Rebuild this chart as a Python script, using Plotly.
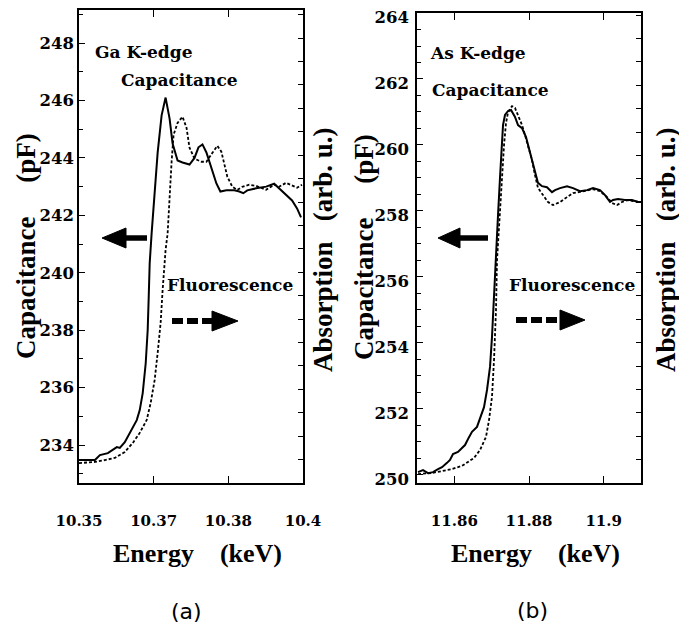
import plotly.graph_objects as go

# ---------------- data ----------------
# Panel (a): Ga K-edge
energy_a_cap = [10.35000, 10.35356, 10.35467, 10.35644, 10.35844, 10.35911, 10.36022, 10.36178,
                10.36289, 10.36356, 10.36422, 10.36489, 10.36533, 10.36556, 10.36578, 10.36622,
                10.36689, 10.36756, 10.36844, 10.36933, 10.37022, 10.37089, 10.37200, 10.37311,
                10.37467, 10.37578, 10.37667, 10.37756, 10.37844, 10.37956, 10.38067, 10.38156,
                10.38289, 10.38467, 10.38578, 10.38667, 10.38756, 10.38956, 10.39178, 10.39356,
                10.39467, 10.39622, 10.39756, 10.39867, 10.39956]
capacitance_a = [233.48, 233.48, 233.65, 233.72, 233.93, 233.90, 234.10, 234.52, 234.87, 235.22,
                 235.81, 236.85, 238.00, 239.15, 240.33, 241.40, 242.70, 244.19, 245.48, 246.10,
                 245.37, 244.50, 243.91, 243.84, 243.77, 244.00, 244.37, 244.47, 244.19, 243.63,
                 243.11, 242.83, 242.87, 242.87, 242.83, 242.77, 242.87, 242.94, 243.00, 243.10,
                 242.94, 242.70, 242.52, 242.24, 241.93]
energy_a_fl = [10.35000, 10.35356, 10.35578, 10.35800, 10.36022, 10.36200, 10.36356, 10.36511,
               10.36600, 10.36689, 10.36756, 10.36822, 10.36867, 10.36933, 10.36978, 10.37022,
               10.37067, 10.37111, 10.37200, 10.37311, 10.37400, 10.37467, 10.37578, 10.37733,
               10.37844, 10.37978, 10.38089, 10.38178, 10.38244, 10.38311, 10.38422, 10.38533,
               10.38644, 10.38800, 10.38956, 10.39178, 10.39356, 10.39467, 10.39622, 10.39756,
               10.39867, 10.39978]
absorption_a = [0.85, 0.90, 0.98, 1.07, 1.32, 1.71, 2.14, 2.69, 3.42, 4.40,
                5.56, 6.84, 8.25, 9.96, 10.65, 12.31, 13.72, 14.87, 15.38, 15.64,
                15.17, 14.32, 13.85, 13.72, 13.72, 14.10, 14.40, 14.15, 13.59, 13.08,
                12.65, 12.52, 12.65, 12.74, 12.69, 12.52, 12.74, 12.65, 12.82, 12.69,
                12.61, 12.74]

# Panel (b): As K-edge
energy_b_cap = [11.85027, 11.85161, 11.85295, 11.85429, 11.85563, 11.85670, 11.85804, 11.85884,
                11.85964, 11.86098, 11.86205, 11.86286, 11.86393, 11.86473, 11.86607, 11.86688,
                11.86795, 11.86875, 11.86956, 11.87009, 11.87063, 11.87116, 11.87170, 11.87223,
                11.87277, 11.87304, 11.87357, 11.87438, 11.87518, 11.87625, 11.87706, 11.87813,
                11.87920, 11.87973, 11.88081, 11.88161, 11.88241, 11.88349, 11.88482, 11.88616,
                11.88697, 11.88831, 11.89018, 11.89179, 11.89366, 11.89554, 11.89715, 11.89902,
                11.90036, 11.90170, 11.90250, 11.90384, 11.90572, 11.90759, 11.90920, 11.91000]
capacitance_b = [250.08, 250.14, 250.05, 250.08, 250.17, 250.23, 250.36, 250.45, 250.63, 250.69,
                 250.81, 250.90, 251.14, 251.30, 251.45, 251.72, 252.05, 252.57, 253.27, 254.18,
                 255.51, 256.88, 257.87, 259.00, 260.00, 260.60, 260.91, 261.03, 261.06, 260.85,
                 260.60, 260.51, 260.24, 260.00, 259.60, 259.18, 258.85, 258.75, 258.72, 258.57,
                 258.63, 258.69, 258.75, 258.69, 258.60, 258.63, 258.69, 258.63, 258.48, 258.27,
                 258.33, 258.36, 258.33, 258.33, 258.27, 258.27]
energy_b_fl = [11.85027, 11.85402, 11.85670, 11.85938, 11.86205, 11.86527, 11.86688, 11.86848,
               11.86929, 11.87009, 11.87063, 11.87116, 11.87143, 11.87223, 11.87277, 11.87331,
               11.87384, 11.87438, 11.87545, 11.87625, 11.87706, 11.87813, 11.87893, 11.87973,
               11.88081, 11.88161, 11.88241, 11.88375, 11.88509, 11.88643, 11.88831, 11.89018,
               11.89179, 11.89366, 11.89554, 11.89715, 11.89902, 11.90090, 11.90224, 11.90358,
               11.90492, 11.90626, 11.90786, 11.90974]
absorption_b = [0.38, 0.43, 0.51, 0.60, 0.73, 1.07, 1.41, 1.97, 2.69, 3.68,
                5.26, 7.39, 9.53, 11.41, 13.03, 14.44, 15.38, 15.85, 16.11, 16.03,
                15.73, 15.30, 14.87, 14.44, 13.80, 13.16, 12.61, 12.31, 12.01, 11.88,
                12.01, 12.22, 12.39, 12.44, 12.52, 12.56, 12.48, 12.22, 11.97, 11.88,
                12.01, 12.09, 12.05, 12.01]

xtick_vals_a = [10.35, 10.35 + 0.05 / 3, 10.35 + 0.10 / 3, 10.40]
xtick_text_a = ["10.35", "10.37", "10.38", "10.4"]
xtick_vals_b = [11.86, 11.88, 11.90]
xtick_text_b = ["11.86", "11.88", "11.9"]

# ---------------- layout helpers ----------------
# The page body has an 8px margin: positions are given in window pixels.
OFF = 8
W, H = 687 - OFF, 626 - OFF
def px(x):
    return (x - OFF) / W
def py(y):
    return 1 - (y - OFF) / H

SERIF_T = "Liberation Serif"
SERIF_W = "DejaVu Serif"

fig = go.Figure()
fig.add_trace(go.Scatter(x=energy_a_cap, y=capacitance_a, mode="lines",
                         line=dict(color="black", width=2), xaxis="x", yaxis="y"))
fig.add_trace(go.Scatter(x=energy_a_fl, y=absorption_a, mode="lines",
                         line=dict(color="black", width=1.8, dash="3px,2px"), xaxis="x", yaxis="y2"))
fig.add_trace(go.Scatter(x=energy_b_cap, y=capacitance_b, mode="lines",
                         line=dict(color="black", width=2), xaxis="x2", yaxis="y3"))
fig.add_trace(go.Scatter(x=energy_b_fl, y=absorption_b, mode="lines",
                         line=dict(color="black", width=1.8, dash="3px,2px"), xaxis="x2", yaxis="y4"))

tickfont_x = dict(family=SERIF_W, size=15, color="black", weight="bold")
tickfont_y = dict(family=SERIF_W, size=16.5, color="black", weight="bold")

common_x = dict(showline=True, linecolor="black", linewidth=1.6, mirror="ticks",
                ticks="inside", ticklen=7, tickwidth=1.2, tickcolor="black",
                showgrid=False, zeroline=False, tickmode="array", automargin=False,
                tickfont=tickfont_x, ticklabelstandoff=23)
common_y = dict(showline=True, linecolor="black", linewidth=1.6, ticks="inside",
                ticklen=6, tickwidth=1.2, tickcolor="black", showgrid=False,
                zeroline=False, tickfont=tickfont_y, dtick=2, automargin=False,
                ticklabeloverflow="allow")
common_y2 = dict(showline=True, linecolor="black", linewidth=1.6, ticks="inside",
                 ticklen=5, tickwidth=1.2, tickcolor="black", showgrid=False,
                 zeroline=False, showticklabels=False, side="right", dtick=1, tick0=0,
                 automargin=False)

dom_y = [py(483), py(10)]
dom_yb = [py(483), py(13)]

fig.update_layout(
    width=W, height=H, autosize=False,
    margin=dict(l=0, r=0, t=0, b=0, pad=0, autoexpand=False),
    paper_bgcolor="white", plot_bgcolor="white", showlegend=False,
    xaxis=dict(domain=[px(79), px(303)], range=[10.35, 10.40], anchor="y",
               tickvals=xtick_vals_a, ticktext=xtick_text_a, **common_x),
    yaxis=dict(domain=dom_y, range=[232.68, 249.15], anchor="x", tick0=234,
               minor=dict(dtick=1, ticks="inside", ticklen=4, tickcolor="black", tickwidth=1.2),
               ticklabelstandoff=0, **common_y),
    yaxis2=dict(range=[0, 20.2], overlaying="y", anchor="x", **common_y2),
    xaxis2=dict(domain=[px(417), px(641)], range=[11.85, 11.91], anchor="y3",
                tickvals=xtick_vals_b, ticktext=xtick_text_b, **common_x),
    yaxis3=dict(domain=dom_yb, range=[249.75, 264.001], anchor="x2", tick0=250,
                minor=dict(dtick=0.5, ticks="inside", ticklen=4, tickcolor="black", tickwidth=1.2),
                ticklabelstandoff=3, ticklabelshift=4, **common_y),
    yaxis4=dict(range=[0, 20.09], overlaying="y3", anchor="x2", **common_y2),
)

def txt(s, x, y, family=SERIF_W, size=17, angle=0, bold=True):
    fig.add_annotation(text=s, x=px(x), y=py(y), xref="paper", yref="paper",
                       xanchor="center", yanchor="middle", showarrow=False,
                       textangle=angle,
                       font=dict(family=family, size=size, color="black",
                                 weight="bold" if bold else "normal"))

NB = "\u00a0"
# in-plot labels
txt("Ga K-edge", 144, 52)
txt("Capacitance", 179, 80)
txt("Fluorescence", 230, 285)
txt("As K-edge", 478, 53)
txt("Capacitance", 490, 90)
txt("Fluorescence", 572, 285)

# axis titles
txt("Energy" + NB * 4 + "(keV)", 197, 553, family=SERIF_T, size=26)
txt("Energy" + NB * 4 + "(keV)", 535, 553, family=SERIF_T, size=26)
txt("Capacitance" + NB * 5 + "(pF)", 26, 246, family=SERIF_T, size=27, angle=-90)
txt("Capacitance" + NB * 5 + "(pF)", 364, 247, family=SERIF_T, size=27, angle=-90)
txt("Absorption" + NB * 3 + "(arb. u.)", 323, 250, family=SERIF_T, size=27, angle=-90)
txt("Absorption" + NB * 3 + "(arb. u.)", 666, 250, family=SERIF_T, size=27, angle=-90)
txt("(a)", 186, 611, family="DejaVu Sans", size=22, bold=False)
txt("(b)", 532, 610, family="DejaVu Sans", size=22, bold=False)

# arrows
def solid_arrow(x_tail, x_base, x_tip, y, half=10, w=5.5):
    fig.add_shape(type="line", xref="paper", yref="paper",
                  x0=px(x_tail), x1=px(x_base), y0=py(y), y1=py(y),
                  line=dict(color="black", width=w))
    fig.add_shape(type="path", xref="paper", yref="paper",
                  path=f"M {px(x_base)} {py(y-half)} L {px(x_base)} {py(y+half)} L {px(x_tip)} {py(y)} Z",
                  fillcolor="black", line=dict(color="black", width=1))

def dashed_arrow(x_tail, x_base, x_tip, y, half=10, w=6):
    fig.add_shape(type="line", xref="paper", yref="paper",
                  x0=px(x_tail), x1=px(x_base + 1), y0=py(y), y1=py(y),
                  line=dict(color="black", width=w, dash="11px,4px"))
    fig.add_shape(type="path", xref="paper", yref="paper",
                  path=f"M {px(x_base)} {py(y-half)} L {px(x_base)} {py(y+half)} L {px(x_tip)} {py(y)} Z",
                  fillcolor="black", line=dict(color="black", width=1))

solid_arrow(147, 126, 102, 238)
solid_arrow(488, 460, 438, 238)
dashed_arrow(172, 212, 238, 321)
dashed_arrow(516, 560, 585, 320)

fig.write_html("out.html")
